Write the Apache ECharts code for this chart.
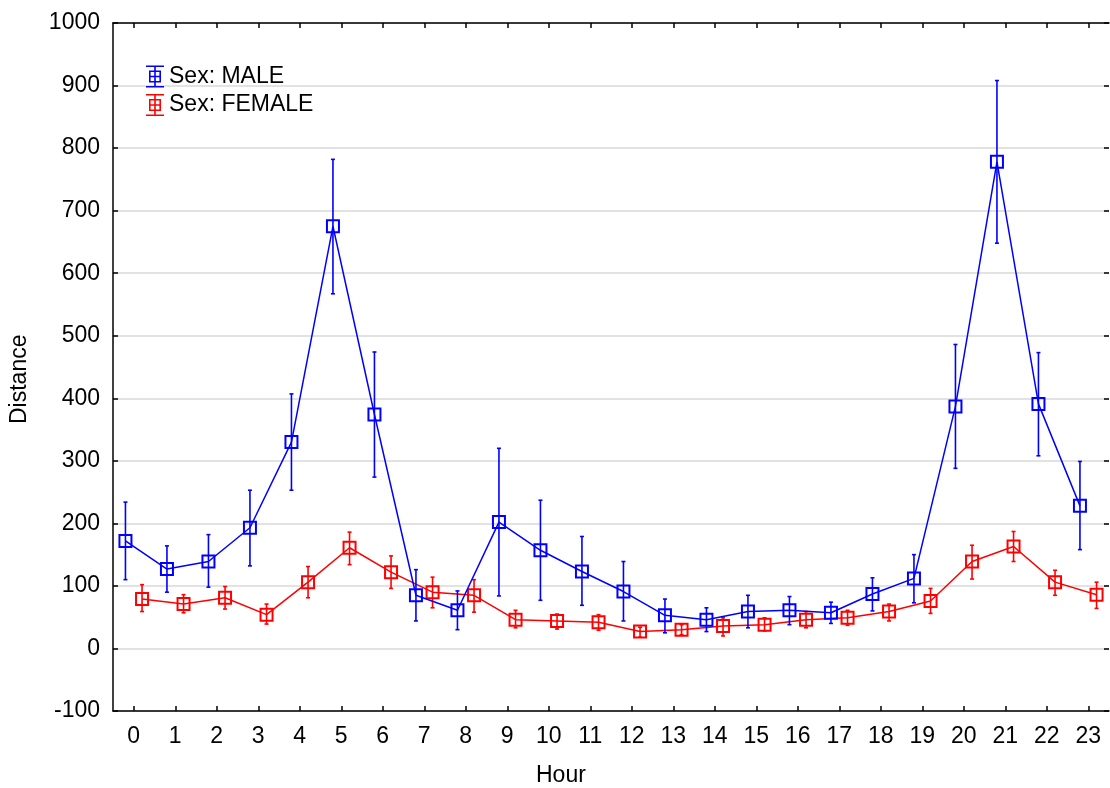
<!DOCTYPE html>
<html>
<head>
<meta charset="utf-8">
<script src="https://cdn.jsdelivr.net/npm/echarts@6/dist/echarts.min.js"></script>
<style>
html,body{margin:0;padding:0;background:#fff;}
#chart{width:1110px;height:788px;}
</style>
</head>
<body>
<div id="chart"></div>
<script>
var hours = ['0','1','2','3','4','5','6','7','8','9','10','11','12','13','14','15','16','17','18','19','20','21','22','23'];
var yTicks = [-100, 0, 100, 200, 300, 400, 500, 600, 700, 800, 900, 1000];

var maleMean = [172, 127, 139, 193, 330, 675, 374, 85, 61, 202, 157, 123, 91, 53, 46, 59, 61, 57, 87, 112, 387, 778, 391, 228];
var maleLow  = [110, 90, 98, 132, 253, 567, 274, 44, 30, 84, 77, 69, 44, 25, 27, 33, 38, 40, 60, 73, 288, 648, 308, 158];
var maleHigh = [234, 164, 182, 253, 407, 782, 474, 126, 92, 320, 237, 179, 139, 79, 65, 85, 83, 74, 113, 150, 486, 908, 473, 299];

var femaleMean = [79, 71, 81, 54, 106, 161, 122, 90, 85, 46, 44, 42, 27, 30, 36, 38, 46, 49, 59, 76, 139, 163, 106, 86];
var femaleLow  = [59, 57, 63, 39, 81, 134, 96, 65, 58, 33, 31, 29, 18, 22, 20, 28, 33, 37, 44, 56, 111, 139, 85, 64];
var femaleHigh = [102, 86, 99, 71, 131, 186, 148, 114, 110, 61, 55, 54, 34, 38, 49, 49, 59, 61, 71, 96, 165, 187, 125, 106];

var seriesNames = ['Sex: MALE', 'Sex: FEMALE'];
var colors = ['#0000ff', '#ff0000'];
var offsets = [-0.2, 0.2];

var FONT = '"Liberation Sans", Arial, sans-serif';
var FS = 23;

function pts(mean, off) {
  return mean.map(function (v, i) { return [i + off, v]; });
}
function bars(low, high, off) {
  return low.map(function (v, i) { return [i + off, v, high[i]]; });
}
function errRender(color) {
  return function (params, api) {
    var x = api.value(0);
    var lo = api.coord([x, api.value(1)]);
    var hi = api.coord([x, api.value(2)]);
    var c = 2;
    var st = { stroke: color, lineWidth: 1.6 };
    return {
      type: 'group',
      children: [
        { type: 'line', shape: { x1: lo[0], y1: lo[1], x2: hi[0], y2: hi[1] }, style: st },
        { type: 'line', shape: { x1: hi[0] - c, y1: hi[1], x2: hi[0] + c, y2: hi[1] }, style: st },
        { type: 'line', shape: { x1: lo[0] - c, y1: lo[1], x2: lo[0] + c, y2: lo[1] }, style: st }
      ]
    };
  };
}

var iconPath = 'path://M0,0H18V1.6H0Z M0,20.4H18V22H0Z M8.2,0H9.8V22H8.2Z M3,5H15V6.6H3Z M3,15.4H15V17H3Z M3,5H4.6V17H3Z M13.4,5H15V17H13.4Z M3,10.2H15V11.8H3Z';

var chart = echarts.init(document.getElementById('chart'));
var option = {
  animation: false,
  backgroundColor: '#fff',
  textStyle: { fontFamily: FONT },
  grid: { left: 113, right: 1, top: 23, bottom: 77, containLabel: false },
  legend: {
    orient: 'vertical',
    left: 141,
    top: 60,
    itemWidth: 18,
    itemHeight: 22,
    itemGap: 5.5,
    textStyle: { fontSize: FS, color: '#000', fontFamily: FONT, lineHeight: 22 },
    data: [
      { name: seriesNames[0], icon: iconPath, itemStyle: { color: colors[0], borderWidth: 0 } },
      { name: seriesNames[1], icon: iconPath, itemStyle: { color: colors[1], borderWidth: 0 } }
    ]
  },
  xAxis: [
    {
      type: 'category', data: hours, position: 'bottom', boundaryGap: true,
      axisLine: { show: true, onZero: false, lineStyle: { color: '#000', width: 1.5 } },
      axisTick: { show: true, inside: true, length: 5, alignWithLabel: true, lineStyle: { color: '#000', width: 1.5 } },
      axisLabel: { fontSize: FS, color: '#000', margin: 14, fontFamily: FONT, interval: 0 },
      splitLine: { show: false }
    },
    {
      type: 'category', data: hours, position: 'top', boundaryGap: true,
      axisLine: { show: true, onZero: false, lineStyle: { color: '#000', width: 1.5 } },
      axisTick: { show: true, inside: true, length: 5, alignWithLabel: true, lineStyle: { color: '#000', width: 1.5 } },
      axisLabel: { show: false },
      splitLine: { show: false }
    },
    {
      type: 'value', min: -0.5, max: 23.5, show: false, splitLine: { show: false },
      axisLine: { onZero: false }
    }
  ],
  yAxis: [
    {
      type: 'value', min: yTicks[0], max: yTicks[yTicks.length - 1], interval: 100, position: 'left',
      axisLine: { show: true, onZero: false, lineStyle: { color: '#000', width: 1.5 } },
      axisTick: { show: true, inside: true, length: 5, lineStyle: { color: '#000', width: 1.5 } },
      axisLabel: { fontSize: FS, color: '#000', margin: 13, fontFamily: FONT, formatter: function (v) { return String(v); } },
      splitLine: { show: true, lineStyle: { color: '#d9d9d9', width: 1.5 } }
    },
    {
      type: 'value', min: yTicks[0], max: yTicks[yTicks.length - 1], interval: 100, position: 'right',
      axisLine: { show: false, onZero: false },
      axisTick: { show: true, inside: true, length: 5, lineStyle: { color: '#000', width: 1.5 } },
      axisLabel: { show: false },
      splitLine: { show: false }
    }
  ],
  graphic: [
    {
      type: 'text', left: 536, top: 764,
      style: { text: 'Hour', fontSize: FS, fill: '#000', fontFamily: FONT }
    },
    {
      type: 'text', rotation: Math.PI / 2, x: 20, y: 424,
      style: { text: 'Distance', fontSize: FS, fill: '#000', fontFamily: FONT, textVerticalAlign: 'middle', textAlign: 'left' }
    }
  ],
  series: [
    {
      name: seriesNames[1] + ' err', type: 'custom', xAxisIndex: 2, yAxisIndex: 0,
      renderItem: errRender(colors[1]), data: bars(femaleLow, femaleHigh, offsets[1]), z: 3, silent: true
    },
    {
      name: seriesNames[1], type: 'line', xAxisIndex: 2, yAxisIndex: 0,
      data: pts(femaleMean, offsets[1]),
      symbol: 'rect', symbolSize: 12, showAllSymbol: true,
      lineStyle: { color: colors[1], width: 1.5 },
      itemStyle: { color: 'rgba(0,0,0,0)', borderColor: colors[1], borderWidth: 2 },
      z: 4
    },
    {
      name: seriesNames[0] + ' err', type: 'custom', xAxisIndex: 2, yAxisIndex: 0,
      renderItem: errRender(colors[0]), data: bars(maleLow, maleHigh, offsets[0]), z: 5, silent: true
    },
    {
      name: seriesNames[0], type: 'line', xAxisIndex: 2, yAxisIndex: 0,
      data: pts(maleMean, offsets[0]),
      symbol: 'rect', symbolSize: 12, showAllSymbol: true,
      lineStyle: { color: colors[0], width: 1.5 },
      itemStyle: { color: 'rgba(0,0,0,0)', borderColor: colors[0], borderWidth: 2 },
      z: 6
    }
  ]
};
chart.setOption(option);
</script>
</body>
</html>
